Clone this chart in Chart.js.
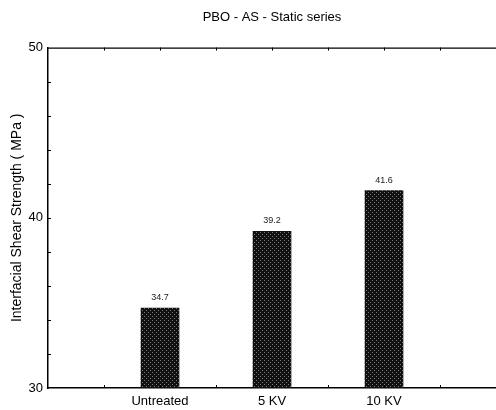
<!DOCTYPE html>
<html>
<head>
<meta charset="utf-8">
<script src="https://cdn.jsdelivr.net/npm/chart.js@4/dist/chart.umd.min.js"></script>
<style>
  html, body { margin: 0; padding: 0; background: #fff; overflow: hidden; }
  #wrap { width: 496px; height: 410px; }
</style>
</head>
<body>
<div id="wrap"><canvas id="myChart"></canvas></div>
<script>
var categories = ['Untreated', '5 KV', '10 KV'];
var positions = [1, 2, 3];
var strength = [34.7, 39.2, 41.6];
var yTickLabels = [30, 40, 50];

// stippled fill like the original bars
function stipple() {
  var c = document.createElement('canvas');
  c.width = 4; c.height = 4;
  var g = c.getContext('2d');
  g.fillStyle = '#111';
  g.fillRect(0, 0, 4, 4);
  g.fillStyle = '#7a7a7a';
  g.fillRect(0, 0, 1, 1);
  g.fillRect(2, 2, 1, 1);
  return g.createPattern(c, 'repeat');
}

var font = 'Arial, "Liberation Sans", sans-serif';

var frame = {
  id: 'frame',
  afterDraw: function(chart) {
    var ctx = chart.ctx, a = chart.chartArea;
    var xs = chart.scales.x, ys = chart.scales.y;
    ctx.save();
    ctx.strokeStyle = '#000';
    ctx.lineWidth = 1.2;
    ctx.beginPath();
    ctx.moveTo(a.left, a.top + 0.5);
    ctx.lineTo(a.right, a.top + 0.5);
    ctx.stroke();
    ctx.lineWidth = 1;
    ctx.beginPath();
    xs.ticks.forEach(function(t) {
      var px = Math.round(xs.getPixelForValue(t.value)) + 0.5;
      if (px <= a.left + 1 || px >= a.right - 1) return;
      ctx.moveTo(px, a.top); ctx.lineTo(px, a.top + 3);
      ctx.moveTo(px, a.bottom); ctx.lineTo(px, a.bottom - 3);
    });
    ys.ticks.forEach(function(t) {
      var py = Math.round(ys.getPixelForValue(t.value)) + 0.5;
      if (py <= a.top + 1 || py >= a.bottom - 1) return;
      ctx.moveTo(a.left, py); ctx.lineTo(a.left + 3, py);
    });
    ctx.stroke();
    ctx.restore();
  },
  afterDatasetsDraw: function(chart) {
    var ctx = chart.ctx;
    var meta = chart.getDatasetMeta(0);
    ctx.save();
    ctx.fillStyle = '#222';
    ctx.font = '9px ' + font;
    ctx.textAlign = 'center';
    ctx.textBaseline = 'bottom';
    meta.data.forEach(function(bar, i) {
      ctx.fillText(strength[i].toFixed(1), bar.x, bar.y - 6);
    });
    ctx.restore();
  }
};

document.addEventListener('DOMContentLoaded', function() {
  var pts = positions.map(function(p, i) { return { x: p, y: strength[i] }; });

  var ctx = document.getElementById('myChart').getContext('2d');
  new Chart(ctx, {
    type: 'bar',
    data: {
      datasets: [{
        label: 'Interfacial Shear Strength',
        data: pts,
        backgroundColor: stipple(),
        borderWidth: 0,
        barThickness: 38
      }]
    },
    options: {
      responsive: true,
      maintainAspectRatio: false,
      animation: false,
      layout: { padding: { top: 0, right: 0, left: 0, bottom: 0 } },
      plugins: {
        legend: { display: false },
        tooltip: { enabled: false },
        title: {
          display: true,
          text: 'PBO - AS - Static series',
          fullSize: false,
          color: '#000',
          font: { family: font, size: 13, weight: 'normal' },
          padding: { top: 10, bottom: 22 }
        }
      },
      scales: {
        x: {
          type: 'linear',
          min: 0,
          max: 4,
          offset: false,
          grid: { display: false, drawTicks: false, offset: false },
          border: { display: true, color: '#000', width: 1.5 },
          ticks: {
            stepSize: 0.5,
            autoSkip: false,
            maxRotation: 0,
            padding: 6,
            color: '#000',
            font: { family: font, size: 13 },
            callback: function(v) {
              var i = positions.indexOf(v);
              return i >= 0 ? categories[i] : '';
            }
          },
          afterFit: function(s) {
            s.height = 22;
            s.paddingLeft = 0;
            s.paddingRight = 0;
          }
        },
        y: {
          min: 30,
          max: 50,
          grid: { display: false, drawTicks: false },
          border: { display: true, color: '#000', width: 1.5 },
          ticks: {
            stepSize: 2,
            padding: 5,
            color: '#000',
            font: { family: font, size: 13 },
            callback: function(v) {
              return yTickLabels.indexOf(v) >= 0 ? String(v) : '';
            }
          },
          title: {
            display: true,
            text: 'Interfacial Shear Strength ( MPa )',
            color: '#000',
            font: { family: font, size: 14 },
            padding: { top: 9, bottom: 0 }
          },
          afterFit: function(s) { s.width = 48; }
        }
      }
    },
    plugins: [frame]
  });
});
</script>
</body>
</html>
